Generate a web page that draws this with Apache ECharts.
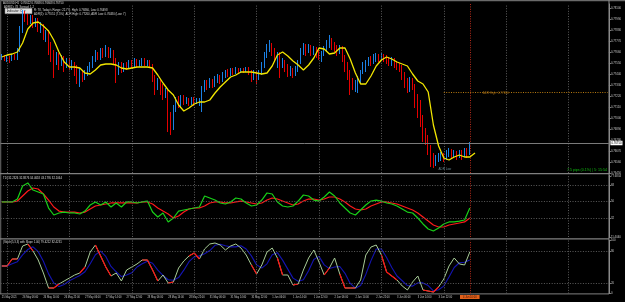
<!DOCTYPE html>
<html><head><meta charset="utf-8">
<script src="https://cdn.jsdelivr.net/npm/echarts@6.0.0/dist/echarts.min.js"></script>
<style>html,body{margin:0;padding:0;background:#000}#c{width:625px;height:302px}</style>
</head><body><div id="c"></div>
<script>
// ---------- DATA ----------
const timeLabels = ["25 May 2021","26 May 06:00","26 May 14:00","26 May 22:00","27 May 06:00","27 May 14:00","27 May 22:00","28 May 06:00","28 May 14:00","28 May 22:00","31 May 06:00","31 May 14:00","31 May 22:00","1 Jun 06:00","1 Jun 14:00","1 Jun 22:00","2 Jun 06:00","2 Jun 14:00","2 Jun 22:00","3 Jun 06:00","3 Jun 14:00","3 Jun 22:00"];
const daySeparators = [2,26,50,74,98,122,146,170,194,218];
const currentBar = 180;
const currentBarLabel = "4 Jun 10:00";

const opens = [
0.7760,0.7762,0.7759,0.7761,0.7758,0.7762,0.7760,0.7768,0.7788,0.7803,
0.7800,0.7796,0.7801,0.7793,0.7798,0.7790,0.7792,0.7782,0.7786,0.7773,
0.7763,0.7758,0.7762,0.7756,0.7760,0.7754,0.7758,0.7752,0.7754,0.7748,
0.7743,0.7746,0.7740,0.7746,0.7750,0.7754,0.7760,0.7763,0.7761,0.7766,
0.7763,0.7768,0.7764,0.7766,0.7758,0.7750,0.7752,0.7748,0.7753,0.7751,
0.7755,0.7752,0.7756,0.7753,0.7755,0.7758,0.7754,0.7756,0.7752,0.7740,
0.7733,0.7736,0.7730,0.7723,0.7726,0.7698,0.7690,0.7708,0.7718,0.7713,
0.7720,0.7716,0.7718,0.7715,0.7719,0.7716,0.7717,0.7718,0.7730,0.7734,
0.7732,0.7736,0.7733,0.7738,0.7740,0.7738,0.7743,0.7746,0.7744,0.7747,
0.7745,0.7748,0.7746,0.7748,0.7747,0.7749,0.7746,0.7740,0.7744,0.7740,
0.7746,0.7753,0.7763,0.7770,0.7773,0.7766,0.7760,0.7763,0.7753,0.7756,
0.7750,0.7746,0.7748,0.7744,0.7750,0.7756,0.7766,0.7770,0.7768,0.7771,
0.7766,0.7769,0.7765,0.7761,0.7764,0.7768,0.7774,0.7778,0.7773,0.7771,
0.7766,0.7770,0.7760,0.7752,0.7744,0.7736,0.7732,0.7734,0.7738,0.7746,
0.7750,0.7754,0.7758,0.7756,0.7760,0.7762,0.7760,0.7762,0.7759,0.7758,
0.7756,0.7758,0.7754,0.7752,0.7750,0.7743,0.7736,0.7730,0.7738,0.7732,
0.7720,0.7708,0.7696,0.7683,0.7678,0.7668,0.7658,0.7655,0.7658,0.7661,
0.7663,0.7660,0.7664,0.7667,0.7663,0.7665,0.7662,0.7666,0.7664,0.7668,0.7665];
const closes = [
0.7762,0.7759,0.7761,0.7758,0.7762,0.7760,0.7768,0.7788,0.7803,0.7800,
0.7796,0.7801,0.7793,0.7798,0.7790,0.7792,0.7782,0.7786,0.7773,0.7763,
0.7758,0.7762,0.7756,0.7760,0.7754,0.7758,0.7752,0.7754,0.7748,0.7743,
0.7746,0.7740,0.7746,0.7750,0.7754,0.7760,0.7763,0.7761,0.7766,0.7763,
0.7768,0.7764,0.7766,0.7758,0.7750,0.7752,0.7748,0.7753,0.7751,0.7755,
0.7752,0.7756,0.7753,0.7755,0.7758,0.7754,0.7756,0.7752,0.7740,0.7733,
0.7736,0.7730,0.7723,0.7726,0.7698,0.7690,0.7708,0.7718,0.7713,0.7720,
0.7716,0.7718,0.7715,0.7719,0.7716,0.7717,0.7718,0.7730,0.7734,0.7732,
0.7736,0.7733,0.7738,0.7740,0.7738,0.7743,0.7746,0.7744,0.7747,0.7745,
0.7748,0.7746,0.7748,0.7747,0.7749,0.7746,0.7740,0.7744,0.7740,0.7746,
0.7753,0.7763,0.7770,0.7773,0.7766,0.7760,0.7763,0.7753,0.7756,0.7750,
0.7746,0.7748,0.7744,0.7750,0.7756,0.7766,0.7770,0.7768,0.7771,0.7766,
0.7769,0.7765,0.7761,0.7764,0.7768,0.7774,0.7778,0.7773,0.7771,0.7766,
0.7770,0.7760,0.7752,0.7744,0.7736,0.7732,0.7734,0.7738,0.7746,0.7750,
0.7754,0.7758,0.7756,0.7760,0.7762,0.7760,0.7762,0.7759,0.7758,0.7756,
0.7758,0.7754,0.7752,0.7750,0.7743,0.7736,0.7730,0.7738,0.7732,0.7720,
0.7708,0.7696,0.7683,0.7678,0.7668,0.7658,0.7655,0.7658,0.7661,0.7663,
0.7660,0.7664,0.7667,0.7663,0.7665,0.7662,0.7666,0.7664,0.7668,0.7665,0.7675];
const highs = [
0.7764,0.7763,0.7763,0.7762,0.7764,0.7764,0.7770,0.7792,0.7808,0.7807,
0.7804,0.7803,0.7803,0.7800,0.7800,0.7796,0.7794,0.7788,0.7788,0.7776,
0.7768,0.7766,0.7765,0.7763,0.7762,0.7760,0.7760,0.7758,0.7756,0.7753,
0.7750,0.7748,0.7748,0.7752,0.7756,0.7762,0.7768,0.7766,0.7770,0.7770,
0.7773,0.7771,0.7770,0.7768,0.7760,0.7756,0.7756,0.7755,0.7756,0.7758,
0.7758,0.7760,0.7759,0.7758,0.7760,0.7760,0.7758,0.7758,0.7754,0.7743,
0.7740,0.7738,0.7734,0.7730,0.7728,0.7706,0.7713,0.7721,0.7722,0.7723,
0.7723,0.7721,0.7720,0.7721,0.7721,0.7720,0.7720,0.7732,0.7738,0.7738,
0.7740,0.7739,0.7742,0.7744,0.7743,0.7746,0.7748,0.7749,0.7750,0.7750,
0.7751,0.7750,0.7750,0.7750,0.7751,0.7751,0.7748,0.7748,0.7747,0.7748,
0.7756,0.7766,0.7774,0.7778,0.7775,0.7770,0.7766,0.7766,0.7760,0.7758,
0.7754,0.7752,0.7750,0.7752,0.7758,0.7770,0.7775,0.7774,0.7774,0.7773,
0.7772,0.7771,0.7768,0.7767,0.7772,0.7778,0.7783,0.7780,0.7776,0.7773,
0.7773,0.7772,0.7763,0.7756,0.7748,0.7740,0.7738,0.7742,0.7748,0.7756,
0.7758,0.7761,0.7762,0.7764,0.7765,0.7764,0.7765,0.7764,0.7763,0.7761,
0.7761,0.7760,0.7757,0.7755,0.7753,0.7746,0.7740,0.7741,0.7740,0.7734,
0.7724,0.7718,0.7703,0.7690,0.7683,0.7673,0.7665,0.7663,0.7665,0.7666,
0.7665,0.7668,0.7670,0.7669,0.7668,0.7667,0.7668,0.7668,0.7670,0.7670,0.7676];
const lows = [
0.7758,0.7757,0.7756,0.7755,0.7757,0.7758,0.7758,0.7766,0.7785,0.7796,
0.7793,0.7794,0.7790,0.7791,0.7786,0.7785,0.7778,0.7776,0.7763,0.7756,
0.7740,0.7753,0.7748,0.7752,0.7746,0.7750,0.7748,0.7748,0.7742,0.7734,
0.7731,0.7736,0.7738,0.7742,0.7746,0.7750,0.7756,0.7758,0.7758,0.7760,
0.7761,0.7760,0.7760,0.7753,0.7735,0.7743,0.7745,0.7746,0.7748,0.7749,
0.7750,0.7750,0.7751,0.7751,0.7752,0.7752,0.7752,0.7750,0.7736,0.7723,
0.7728,0.7723,0.7718,0.7720,0.7686,0.7683,0.7688,0.7706,0.7710,0.7710,
0.7713,0.7714,0.7712,0.7713,0.7712,0.7714,0.7712,0.7706,0.7726,0.7728,
0.7730,0.7730,0.7731,0.7735,0.7734,0.7736,0.7740,0.7741,0.7742,0.7743,
0.7744,0.7744,0.7745,0.7745,0.7746,0.7743,0.7736,0.7738,0.7734,0.7738,
0.7743,0.7750,0.7760,0.7766,0.7762,0.7756,0.7750,0.7740,0.7750,0.7746,
0.7741,0.7742,0.7740,0.7742,0.7746,0.7754,0.7763,0.7762,0.7765,0.7762,
0.7763,0.7760,0.7758,0.7756,0.7762,0.7766,0.7770,0.7768,0.7766,0.7762,
0.7764,0.7756,0.7746,0.7738,0.7723,0.7728,0.7726,0.7725,0.7734,0.7744,
0.7746,0.7752,0.7752,0.7754,0.7756,0.7756,0.7758,0.7756,0.7754,0.7752,
0.7752,0.7750,0.7748,0.7746,0.7738,0.7730,0.7725,0.7726,0.7728,0.7710,
0.7700,0.7691,0.7676,0.7673,0.7663,0.7651,0.7650,0.7652,0.7656,0.7657,
0.7656,0.7658,0.7661,0.7659,0.7660,0.7658,0.7660,0.7658,0.7661,0.7660,0.7663];

// moving average, one reading every 2 bars (bar 0, 2, 4, ...)
const maVals = [
0.7761,0.7763,0.7764,0.7766,0.7775,0.7789,0.7795,0.7796,0.7792,0.7787,0.7778,
0.7766,0.7756,0.7751,0.7751,0.7750,0.7745,0.7744,0.7748,0.7753,0.7754,
0.7754,0.7753,0.7750,0.7749,0.7750,0.7751,0.7751,0.7751,0.7750,0.7743,
0.7735,0.7728,0.7723,0.7713,0.7707,0.7710,0.7714,0.7716,0.7716,0.7718,
0.7725,0.7731,0.7736,0.7741,0.7743,0.7746,0.7746,0.7746,0.7745,0.7744,
0.7745,0.7752,0.7763,0.7766,0.7762,0.7757,0.7753,0.7748,0.7753,0.7760,
0.7770,0.7769,0.7764,0.7765,0.7770,0.7770,0.7759,0.7745,0.7734,0.7734,
0.7742,0.7752,0.7758,0.7761,0.7759,0.7756,0.7754,0.7752,0.7744,0.7737,
0.7734,0.7726,0.7693,0.7672,0.7660,0.7658,0.7661,0.7663,0.7661,0.7661,0.7665];

// TDI, one reading every 2 bars
const tdiFast = [
49.5,49.5,49.5,52.7,66.9,70.2,62.5,60.4,58.2,42.9,35.3,37.5,38.5,37.5,37.5,36.4,39.6,46.2,49.5,46.2,49.5,44.0,48.4,44.0,49.5,49.5,48.4,49.5,50.5,38.5,33.1,37.5,27.7,32.0,39.6,40.7,41.8,42.9,44.0,56.0,53.8,
51.6,48.4,47.3,49.5,53.8,52.7,48.4,45.1,46.2,51.6,59.3,58.2,49.5,45.1,44.0,45.1,50.5,57.1,56.0,51.6,50.5,54.9,60.4,56.0,48.4,42.9,37.5,35.3,40.7,46.2,50.5,51.6,50.5,48.4,47.3,45.1,41.8,38.5,37.5,32.0,25.5,20.0,17.8,21.1,25.5,27.7,27.7,28.7,29.8,42.9];
const tdiSlow = [
49.5,49.5,49.5,50.5,56.0,61.4,64.7,63.6,58.2,51.6,44.0,39.6,38.5,38.5,38.5,37.5,38.5,41.8,45.1,46.2,47.3,48.4,48.4,48.4,48.4,48.4,48.4,49.5,49.5,47.3,42.9,39.6,36.4,32.0,34.2,38.5,41.8,42.9,42.9,45.1,48.4,
49.5,49.5,48.4,48.4,49.5,50.5,49.5,48.4,47.3,48.4,51.6,53.8,52.7,50.5,48.4,46.2,47.3,50.5,52.7,52.7,51.6,52.7,54.9,54.9,52.7,49.5,45.1,41.8,40.7,41.8,45.1,47.3,49.5,49.5,48.4,47.3,45.1,42.9,40.7,37.5,33.1,28.7,24.4,22.2,22.2,24.4,25.5,26.6,27.7,32.0];

// Stochastic, one reading every 2 bars
const stochMain = [
51.9,51.9,65.1,65.1,89.6,93.4,80.2,63.2,38.7,10.4,10.4,17.9,23.6,29.2,34.9,38.7,50.0,78.3,91.5,70.8,50.0,33.0,38.7,23.6,44.3,50.0,55.7,63.2,63.2,44.3,23.6,34.9,19.8,21.7,48.1,61.3,70.8,76.4,65.1,84.0,93.4,
95.3,91.5,82.1,89.6,93.4,85.8,72.6,53.8,36.8,53.8,78.3,85.8,67.0,34.9,34.9,16.0,17.9,44.3,67.0,82.1,59.4,34.9,48.1,67.0,36.8,10.4,10.4,10.4,25.5,72.6,87.7,91.5,72.6,40.6,33.0,25.5,14.2,6.6,21.7,33.0,6.6,4.7,2.8,12.3,27.4,51.9,67.0,55.7,53.8,78.3];
const stochSignal = [
52,52,56,60,73,83,88,79,61,37,20,13,17,24,29,34,41,56,73,80,70,51,41,32,35,39,50,56,61,57,44,34,26,25,30,44,60,69,71,75,81,
91,93,90,88,88,90,84,71,54,48,56,73,77,63,46,29,23,26,43,64,70,54,47,50,51,38,19,10,15,36,62,84,84,68,49,33,24,15,14,20,20,15,5,7,14,31,49,58,59,63];
// reading ranges (by reading index) drawn in red on the stochastic
const stochRedRanges = [[0,3],[5,6],[9,11],[15,16],[18,21],[27,30],[32,33],[36,38],[48,49],[53,54],[56,57],[62,63],[65,68],[73,76],[81,84]];

const adrHigh = 0.7726;
const adrLowTextAt = 0.7649;
const midLevels = [32, 50, 68];
const midAxisLabels = [11.404, 32, 50, 68, 77.6834];
const stochLevels = [20, 80];
const stochAxisLabels = [0, 20, 80, 100];

// ---------- BUILD ----------
const SLOTS = 234;
const cats = Array.from({length: SLOTS}, (_, i) => String(i));
const candleData = opens.map((o, i) => [o, closes[i], lows[i], highs[i]]);
const every2 = arr => arr.map((v, i) => [String(2 * i), v]);
const inRed = i => stochRedRanges.some(r => i >= r[0] && i <= r[1]);
const stochRed = stochMain.map((v, i) => [String(2 * i), inRed(i) ? v : null]);
const lastClose = closes[closes.length - 1];

const FONT = 'Liberation Sans';
const LBL = '#c8c8c8';
const FS = 2.8;
const FST = 2.6;
const GRID_L = 0.5, GRID_W = 608.4;

function xAx(gi, labels) {
  return {
    type: 'category', gridIndex: gi, data: cats, boundaryGap: true,
    axisLine: {show: false}, axisTick: {show: false}, splitLine: {show: false},
    axisLabel: labels ? {
      show: true,
      interval: (idx) => idx % 8 === 0 && idx / 8 < timeLabels.length,
      formatter: (v, idx) => timeLabels[Math.round(idx / 8)] || '',
      align: 'left', margin: 2.5, fontSize: FST, color: LBL, fontFamily: FONT
    } : {show: false}
  };
}
const sepLine = {type: [1, 1.6], color: '#5c5c5c', width: 1};
const sepData = daySeparators.map(k => ({xAxis: String(k)}));
const redV = {xAxis: String(currentBar), lineStyle: {color: '#b02818', type: [1, 1.4], width: 1}};

const option = {
  backgroundColor: '#000',
  animation: false,
  textStyle: {fontFamily: FONT},
  grid: [
    {left: GRID_L, top: 4, width: GRID_W, height: 169, containLabel: false, outerBoundsMode: 'none'},
    {left: GRID_L, top: 175, width: GRID_W, height: 62, containLabel: false, outerBoundsMode: 'none'},
    {left: GRID_L, top: 240.5, width: GRID_W, height: 53, containLabel: false, outerBoundsMode: 'none'}
  ],
  xAxis: [xAx(0, false), xAx(1, false), xAx(2, true)],
  yAxis: [
    {type: 'value', gridIndex: 0, position: 'right', min: 0.7645, max: 0.7814, interval: 0.0011,
     axisLine: {show: true, lineStyle: {color: '#8a8a8a'}}, axisTick: {show: true, length: 2, lineStyle: {color: '#8a8a8a'}},
     axisLabel: {formatter: v => v.toFixed(5), fontSize: FS, color: LBL, margin: 2, showMaxLabel: false, fontFamily: FONT},
     splitLine: {show: false}},
    {type: 'value', gridIndex: 1, position: 'right', min: 11.3, max: 78.9,
     axisLine: {show: true, lineStyle: {color: '#8a8a8a'}},
     axisTick: {show: true, length: 2, customValues: midAxisLabels, lineStyle: {color: '#8a8a8a'}},
     axisLabel: {customValues: midAxisLabels, formatter: v => (Number.isInteger(v) ? String(v) : v.toFixed(4)), fontSize: FS, color: LBL, margin: 2, fontFamily: FONT},
     splitLine: {show: false}},
    {type: 'value', gridIndex: 2, position: 'right', min: 0, max: 100,
     axisLine: {show: true, lineStyle: {color: '#8a8a8a'}},
     axisTick: {show: true, length: 2, customValues: stochAxisLabels, lineStyle: {color: '#8a8a8a'}},
     axisLabel: {customValues: stochAxisLabels, formatter: v => String(v), fontSize: FS, color: LBL, margin: 2, fontFamily: FONT},
     splitLine: {show: false}}
  ],
  series: [
    {type: 'candlestick', xAxisIndex: 0, yAxisIndex: 0, data: candleData, barWidth: 1.3,
     itemStyle: {color: '#1e90ff', color0: '#ff0000', borderColor: '#1e90ff', borderColor0: '#ff0000', borderWidth: 0.9},
     markLine: {symbol: 'none', silent: true, animation: false, label: {show: false},
       data: [
         ...sepData.map(d => Object.assign({lineStyle: sepLine}, d)),
         redV
       ]}},
    {type: 'line', xAxisIndex: 0, yAxisIndex: 0, data: every2(maVals), showSymbol: false,
     lineStyle: {color: '#f2e600', width: 1.3}, z: 5,
     markLine: {symbol: 'none', silent: true, animation: false, precision: 5, label: {show: false},
       data: [
         {yAxis: lastClose, lineStyle: {color: '#7a7a7a', type: 'solid', width: 1},
          label: {show: true, position: 'end', distance: 1.5, formatter: lastClose.toFixed(5), backgroundColor: '#ffffff', color: '#000000', fontSize: FS, padding: [1, 1, 0.5, 1], fontFamily: FONT}},
         [{coord: [String(170), adrHigh], lineStyle: {color: '#b87a10', type: [1, 1.4], width: 1}}, {coord: [String(SLOTS - 1), adrHigh]}]
       ]}},
    {type: 'scatter', xAxisIndex: 0, yAxisIndex: 0, symbolSize: 0, silent: true,
     data: [[String(185), adrHigh - 0.0001]],
     label: {show: true, position: 'right', distance: 0, formatter: 'ADR High: ' + adrHigh.toFixed(5), color: '#c8861a', fontSize: 3, fontFamily: FONT}},
    {type: 'scatter', xAxisIndex: 0, yAxisIndex: 0, symbolSize: 0, silent: true,
     data: [[String(168), adrLowTextAt]],
     label: {show: true, position: 'right', distance: 0, formatter: 'ADR Low', color: '#7aa2b0', fontSize: 3, fontFamily: FONT}},

    {type: 'line', xAxisIndex: 1, yAxisIndex: 1, data: every2(tdiSlow), showSymbol: false,
     lineStyle: {color: '#ff1a1a', width: 1.2}},
    {type: 'line', xAxisIndex: 1, yAxisIndex: 1, data: every2(tdiFast), showSymbol: false,
     lineStyle: {color: '#18d018', width: 1.2},
     markLine: {symbol: 'none', silent: true, precision: 5, label: {show: false},
       data: [
         ...midLevels.map(v => ({yAxis: v, lineStyle: {color: '#5c5c5c', type: [1, 1.6], width: 1}})),
         ...sepData.map(d => Object.assign({lineStyle: sepLine}, d)),
         redV
       ]}},

    {type: 'line', xAxisIndex: 2, yAxisIndex: 2, data: every2(stochSignal), showSymbol: false,
     lineStyle: {color: '#1414b4', width: 1.1}},
    {type: 'line', xAxisIndex: 2, yAxisIndex: 2, data: every2(stochMain), showSymbol: false,
     lineStyle: {color: '#a8cc98', width: 1},
     markLine: {symbol: 'none', silent: true, precision: 5, label: {show: false},
       data: [
         ...stochLevels.map(v => ({yAxis: v, lineStyle: {color: '#5c5c5c', type: [1, 1.6], width: 1}})),
         ...sepData.map(d => Object.assign({lineStyle: sepLine}, d)),
         Object.assign({}, redV, {label: {show: true, position: 'start', distance: 1.5, formatter: currentBarLabel,
           backgroundColor: '#e0601a', color: '#3a0a00', fontSize: FST, padding: [0.6, 3, 0.4, 3], fontFamily: FONT}})
       ]}},
    {type: 'line', xAxisIndex: 2, yAxisIndex: 2, data: stochRed, showSymbol: false, connectNulls: false,
     lineStyle: {color: '#ff1010', width: 1.2}, z: 4}
  ],
  graphic: [
    {type: 'rect', shape: {x: 0, y: 0, width: 625, height: 1.2}, style: {fill: '#6a6a6a'}, silent: true},
    {type: 'rect', shape: {x: 0, y: 0, width: 1.3, height: 294}, style: {fill: '#555555'}, silent: true},
    {type: 'line', shape: {x1: 0, y1: 173.7, x2: 609, y2: 173.7}, style: {stroke: '#808080', lineWidth: 1.2}, silent: true},
    {type: 'line', shape: {x1: 0, y1: 238.8, x2: 609, y2: 238.8}, style: {stroke: '#808080', lineWidth: 1.2}, silent: true},
    {type: 'line', shape: {x1: 0, y1: 293.9, x2: 609, y2: 293.9}, style: {stroke: '#808080', lineWidth: 1}, silent: true},
    {type: 'line', shape: {x1: 609, y1: 0, x2: 609, y2: 294}, style: {stroke: '#8a8a8a', lineWidth: 1}, silent: true},
    {type: 'text', x: 3, y: 1.5, style: {text: 'AUDUSD,H1  0.76622 0.76686 0.76608 0.76750', fill: '#d8d8d8', fontSize: 2.8, fontFamily: FONT}, silent: true},
    {type: 'text', x: 4, y: 5.4, style: {text: 'ADR(5): 78  Spread: 1.2', fill: '#d8d8d8', fontSize: 2.8, fontFamily: FONT}, silent: true},
    {type: 'rect', shape: {x: 5, y: 8.3, width: 27, height: 5.4}, style: {fill: '#dcdcdc', stroke: '#909090', lineWidth: 0.5}, silent: true},
    {type: 'text', x: 7, y: 9.5, style: {text: 'Indicator: C  ▾', fill: '#202020', fontSize: 3, fontFamily: FONT}, silent: true},
    {type: 'text', x: 34, y: 9, style: {text: "R: 78, Today's Range: 22.7%  High: 0.76860, Low: 0.76498", fill: '#d8d8d8', fontSize: 2.8, fontFamily: FONT}, silent: true},
    {type: 'text', x: 34, y: 12.4, style: {text: 'ADR(5): 0.77051 (7.5%)  ADR High: 0.77260, ADR Low: 0.76480 (Low: 7)', fill: '#d8d8d8', fontSize: 2.8, fontFamily: FONT}, silent: true},
    {type: 'text', x: 3, y: 176.3, style: {text: 'TDI 32.2326 32.8876 34.4618 43.1795 32.1064', fill: '#d8d8d8', fontSize: 2.8, fontFamily: FONT}, silent: true},
    {type: 'text', x: 3, y: 240.8, style: {text: '(Stoch(5,3,3) with Slope 1.00) 79.4212 82.4231', fill: '#d8d8d8', fontSize: 2.8, fontFamily: FONT}, silent: true},
    {type: 'text', x: 607, y: 168.4, style: {text: '7.5 pips (0.1%) | 5: 15:54', fill: '#10c010', fontSize: 3.6, align: 'right', fontFamily: FONT}, silent: true}
  ]
};

const chart = echarts.init(document.getElementById('c'), null, {renderer: 'canvas', width: 625, height: 302});
chart.setOption(option);
</script></body></html>
